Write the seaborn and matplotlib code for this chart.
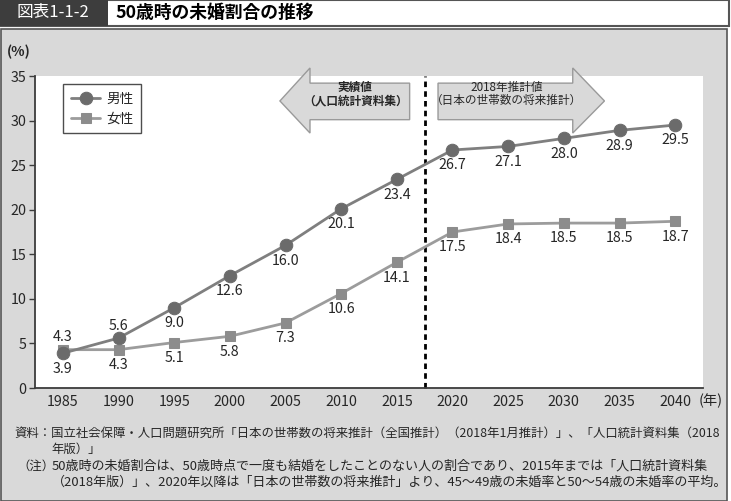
import numpy as np
import pandas as pd
import matplotlib.pyplot as plt
import seaborn as sns
from matplotlib.patches import Polygon, Rectangle

years = ['1985', '1990', '1995', '2000', '2005', '2010', '2015',
         '2020', '2025', '2030', '2035', '2040']
male = [3.9, 5.6, 9.0, 12.6, 16.0, 20.1, 23.4, 26.7, 27.1, 28.0, 28.9, 29.5]
female = [4.3, 4.3, 5.1, 5.8, 7.3, 10.6, 14.1, 17.5, 18.4, 18.5, 18.5, 18.7]
male_above = [False, True] + [False] * 10
female_above = [True] + [False] * 11

sns.set_style('white')
plt.rcParams['font.family'] = ['Noto Sans CJK JP', 'DejaVu Sans']

W, H = 731, 501
fig = plt.figure(figsize=(W / 100, H / 100), dpi=100)
fig.patch.set_facecolor('white')


def fx(px):
    return px / W


def fy(py):
    return 1 - py / H


# header bar and grey panel
fig.patches.append(Rectangle((fx(0.5), fy(26)), fx(728), 26 / H, transform=fig.transFigure,
                             facecolor='white', edgecolor='#555555', lw=1.5, zorder=-3))
fig.patches.append(Rectangle((0, fy(26)), fx(108), 26 / H, transform=fig.transFigure,
                             facecolor='#3d3d3d', edgecolor='none', zorder=-2))
fig.patches.append(Rectangle((fx(0.5), 0), fx(726), fy(29), transform=fig.transFigure,
                             facecolor='#d9d9d9', edgecolor='#555555', lw=1.2, zorder=-3))
fig.text(fx(53), fy(13), '図表1-1-2', color='white', fontsize=12, ha='center', va='center')
fig.text(fx(115), fy(13), '50歳時の未婚割合の推移', color='black', fontsize=12.8,
         fontweight='bold', ha='left', va='center')

ax = fig.add_axes([fx(35), fy(388), fx(703) - fx(35), fy(76) - fy(388)])
ax.set_zorder(2)
ax.set_facecolor('white')

df = pd.DataFrame({'pos': np.arange(len(years)), 'year': years,
                   'male': male, 'female': female})

sns.lineplot(data=df, x='pos', y='male', ax=ax, color='#7f7f7f', lw=2,
             marker='o', markersize=9, markerfacecolor='#6b6b6b',
             markeredgecolor='#6b6b6b', label='男性', zorder=4)
sns.lineplot(data=df, x='pos', y='female', ax=ax, color='#9c9c9c', lw=2,
             marker='s', markersize=7.5, markerfacecolor='#8c8c8c',
             markeredgecolor='#8c8c8c', label='女性', zorder=3)

for i, (m, f) in enumerate(zip(male, female)):
    ax.annotate(f'{m:.1f}', (i, m), xytext=(0, 9 if male_above[i] else -11),
                textcoords='offset points', ha='center', va='center', fontsize=10.3)
    ax.annotate(f'{f:.1f}', (i, f), xytext=(0, 9 if female_above[i] else -11),
                textcoords='offset points', ha='center', va='center', fontsize=10.3)

ax.set_xlim(-0.5, len(years) - 0.5)
ax.set_ylim(0, 35)
ax.set_yticks(range(0, 36, 5))
ax.set_xticks(df['pos'])
ax.set_xticklabels(years)
ax.set_xticks(df['pos'][:-1] + 0.5, minor=True)
ax.tick_params(axis='x', which='major', length=0, labelsize=10.3, pad=5)
ax.tick_params(axis='x', which='minor', direction='in', length=4, width=1, color='#3c3c3c')
ax.tick_params(axis='y', direction='out', length=4, width=1, color='#3c3c3c',
               labelsize=10.3, pad=2, left=True)
ax.set_xlabel('')
ax.set_ylabel('')
for s in ['top', 'right']:
    ax.spines[s].set_visible(False)
for s in ['left', 'bottom']:
    ax.spines[s].set_color('#3c3c3c')
    ax.spines[s].set_linewidth(1.3)

# boundary between actual and projected values
ax.plot([6.5, 6.5], [0, 35], color='black', lw=2, ls=(0, (2, 1.5)), zorder=2, clip_on=False)

# arrows
left_arrow = [(3.90, 32.2), (4.44, 35.9), (4.44, 34.2), (6.23, 34.2),
              (6.23, 30.1), (4.44, 30.1), (4.44, 28.6)]
right_arrow = [(9.73, 32.2), (9.16, 35.9), (9.16, 34.2), (6.74, 34.2),
               (6.74, 30.1), (9.16, 30.1), (9.16, 28.6)]
for pts in (left_arrow, right_arrow):
    ax.add_patch(Polygon(pts, closed=True, facecolor='#d9d9d9', edgecolor='#9a9a9a',
                         lw=1, clip_on=False, zorder=1))
ax.text(5.25, 33.0, '実績値\n（人口統計資料集）', ha='center', va='center',
        fontsize=8.4, fontweight='bold', linespacing=1.05, zorder=5)
ax.text(7.97, 33.0, '2018年推計値\n（日本の世帯数の将来推計）', ha='center', va='center',
        fontsize=8.4, linespacing=1.05, zorder=5)

leg = ax.legend(loc='upper left', bbox_to_anchor=(0.042, 0.974), borderaxespad=0,
                frameon=True, fancybox=False, edgecolor='#222222', fontsize=9.8,
                handlelength=2.2, handletextpad=0.4, borderpad=0.55, labelspacing=0.45)
leg.get_frame().set_linewidth(1)

fig.text(fx(7), fy(52), '(%)', fontsize=10, fontweight='bold', ha='left', va='center')
fig.text(fx(711), fy(401), '(年)', fontsize=10.3, ha='center', va='center')

fig.text(fx(14), fy(433), '資料：国立社会保障・人口問題研究所「日本の世帯数の将来推計（全国推計）（2018年1月推計）」、「人口統計資料集（2018',
         fontsize=8.9, ha='left', va='center')
fig.text(fx(51), fy(449), '年版）」', fontsize=8.9, ha='left', va='center')
fig.text(fx(17), fy(466), '（注）', fontsize=8.9, ha='left', va='center')
fig.text(fx(52), fy(466), '50歳時の未婚割合は、50歳時点で一度も結婚をしたことのない人の割合であり、2015年までは「人口統計資料集',
         fontsize=9.4, ha='left', va='center')
fig.text(fx(52), fy(482), '（2018年版）」、2020年以降は「日本の世帯数の将来推計」より、45〜49歳の未婚率と50〜54歳の未婚率の平均。',
         fontsize=9.4, ha='left', va='center')

fig.savefig('out.png', dpi=100)
